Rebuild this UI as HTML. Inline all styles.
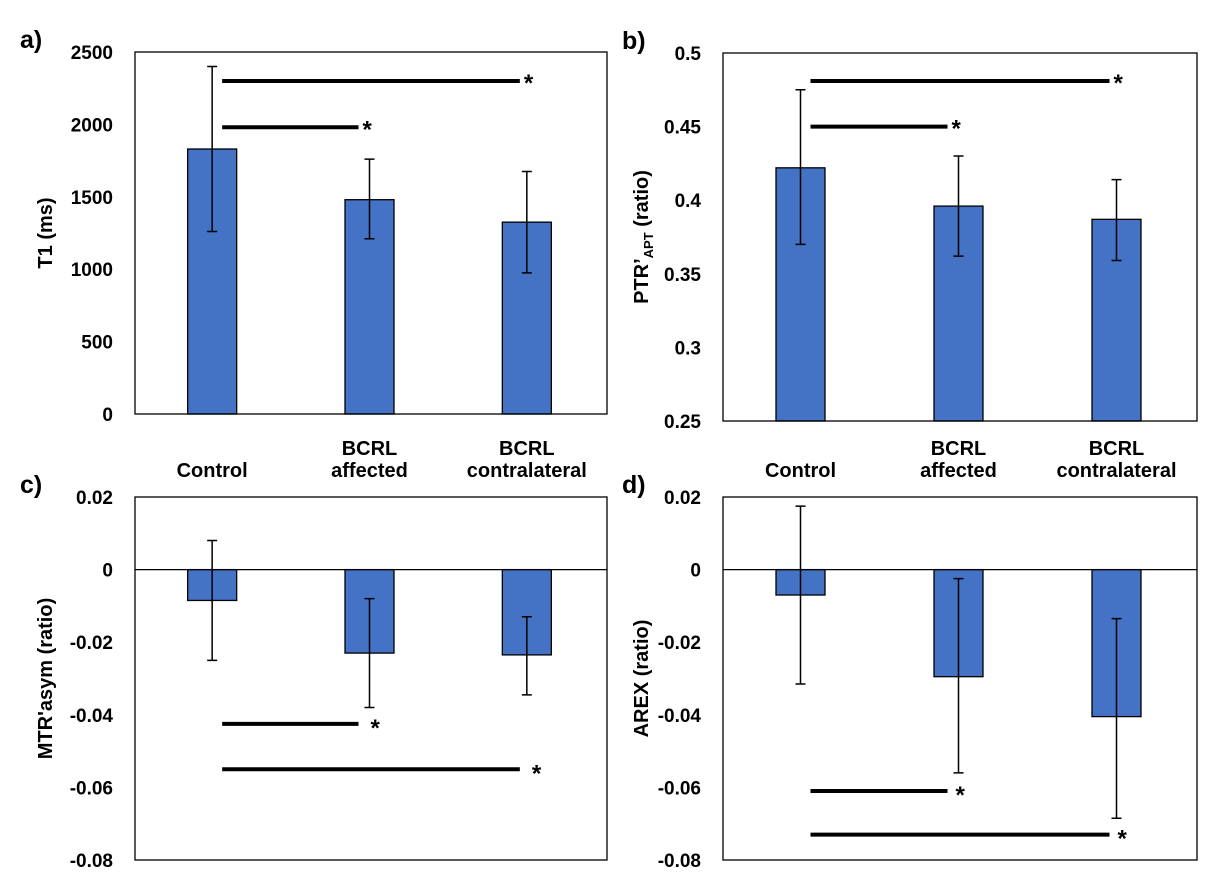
<!DOCTYPE html>
<html><head><meta charset="utf-8"><style>
body{margin:0;background:#fff}
svg{font-family:"Liberation Sans",Arial,sans-serif;font-weight:bold}
</style></head><body>
<svg id="fig" width="1218" height="881" viewBox="0 0 1218 881" xmlns="http://www.w3.org/2000/svg"></svg>
<script>
const categories = [["Control"],["BCRL","affected"],["BCRL","contralateral"]];
const t1Values = [1830, 1480, 1325];
const t1ErrHi = [2400, 1760, 1675];
const t1ErrLo = [1260, 1210, 975];
const ptrValues = [0.422, 0.396, 0.387];
const ptrErrHi = [0.475, 0.430, 0.414];
const ptrErrLo = [0.370, 0.362, 0.359];
const mtrValues = [-0.0085, -0.023, -0.0235];
const mtrErrHi = [0.008, -0.008, -0.013];
const mtrErrLo = [-0.025, -0.038, -0.0345];
const arexValues = [-0.007, -0.0295, -0.0405];
const arexErrHi = [0.0175, -0.0025, -0.0135];
const arexErrLo = [-0.0315, -0.056, -0.0685];
const t1Ticks = [0,500,1000,1500,2000,2500];
const ptrTicks = [0.25,0.3,0.35,0.4,0.45,0.5];
const mtrTicks = [-0.08,-0.06,-0.04,-0.02,0,0.02];
const arexTicks = [-0.08,-0.06,-0.04,-0.02,0,0.02];
const t1Sig = [{v:1980,from:0,to:1},{v:2300,from:0,to:2}];
const ptrSig = [{v:0.45,from:0,to:1},{v:0.481,from:0,to:2}];
const mtrSig = [{v:-0.0425,from:0,to:1},{v:-0.055,from:0,to:2}];
const arexSig = [{v:-0.061,from:0,to:1},{v:-0.073,from:0,to:2}];

const NS="http://www.w3.org/2000/svg";
const svg=document.getElementById('fig');
function mk(tag,attrs,parent,text){const e=document.createElementNS(NS,tag);for(const k in attrs)e.setAttribute(k,attrs[k]);if(text!==undefined)e.textContent=text;(parent||svg).appendChild(e);return e;}

function panel(o){
  const g=mk('g',{});
  
  
  const y=v=>o.y1+(o.max-v)/(o.max-o.min)*(o.y2-o.y1);
  const w=(o.x2-o.x1)/3;
  const cx=i=>o.x1+w*(i+0.5)-1.5;
  const fmt=v=>String(v);
  o.ticks.forEach(t=>{
    const e=mk('text',{x:o.x1-22,y:y(t)+7,'text-anchor':'end','font-size':19},g,fmt(t));
    
    
  });
  const zero=o.min<0?y(0):o.y2;
  o.vals.forEach((v,i)=>{
    const bw=49;
    const r=mk('rect',{x:cx(i)-bw/2,y:Math.min(y(v),zero),width:bw,height:Math.abs(zero-y(v)),fill:'#4472C4',stroke:'#000','stroke-width':1.3},g);
    
    
    const eb=mk('path',{d:`M${cx(i)},${y(o.hi[i])}V${y(o.lo[i])}M${cx(i)-5},${y(o.hi[i])}h10M${cx(i)-5},${y(o.lo[i])}h10`,stroke:'#000','stroke-width':1.5,fill:'none'},g);
    
    
  });
  const box=mk('rect',{x:o.x1,y:o.y1,width:o.x2-o.x1,height:o.y2-o.y1,fill:'none',stroke:'#000','stroke-width':1.3},g);
  
  
  if(o.min<0){const z=mk('line',{x1:o.x1,x2:o.x2,y1:zero,y2:zero,stroke:'#000','stroke-width':1.3},g);
    
    }
  o.sig.forEach(s=>{
    const xa=cx(s.from)+10, xb=cx(s.to)-(s.to===1?11:7);
    const l=mk('line',{x1:xa,x2:xb,y1:y(s.v),y2:y(s.v),stroke:'#000','stroke-width':4},g);
    
    
    const st=mk('text',{x:xb+o.starGap,y:y(s.v)+o.starDy,'font-size':24},g,'*');
    
    
  });
  if(o.cats){categories.forEach((c,i)=>{
    c.forEach((line,j)=>{
      const t=mk('text',{x:cx(i),y:(c.length===1?477:455+22*j),'text-anchor':'middle','font-size':20},g,line);
      
      
    });
  });}
  const yt=mk('text',{transform:`translate(${o.tx},${(o.y1+o.y2)/2}) rotate(-90)`,'text-anchor':'middle','font-size':20},g);
  
  
  if(o.sub){mk('tspan',{},yt,o.title);mk('tspan',{'font-size':13,dy:5},yt,o.sub);mk('tspan',{dy:-5},yt,o.title2);}
  else yt.textContent=o.title;
  const pl=mk('text',{x:o.lx,y:o.y1-4,'font-size':25},g,o.letter);
  
  
}
panel({name:'panel-a-t1',x1:135,x2:607,y1:52,y2:414,min:0,max:2500,ticks:t1Ticks,vals:t1Values,hi:t1ErrHi,lo:t1ErrLo,sig:t1Sig,cats:true,tx:52,title:'T1 (ms)',letter:'a)',lx:20,starGap:4,starDy:10});
panel({name:'panel-b-ptr',x1:723,x2:1197,y1:53,y2:421,min:0.25,max:0.5,ticks:ptrTicks,vals:ptrValues,hi:ptrErrHi,lo:ptrErrLo,sig:ptrSig,cats:true,tx:648,title:'PTR’',sub:'APT',title2:' (ratio)',letter:'b)',lx:622,starGap:4,starDy:10});
panel({name:'panel-c-mtr',x1:135,x2:607,y1:497,y2:860,min:-0.08,max:0.02,ticks:mtrTicks,vals:mtrValues,hi:mtrErrHi,lo:mtrErrLo,sig:mtrSig,cats:false,tx:52,title:'MTR\'asym  (ratio)',letter:'c)',lx:20,starGap:12,starDy:12});
panel({name:'panel-d-arex',x1:723,x2:1197,y1:497,y2:860,min:-0.08,max:0.02,ticks:arexTicks,vals:arexValues,hi:arexErrHi,lo:arexErrLo,sig:arexSig,cats:false,tx:648,title:'AREX (ratio)',letter:'d)',lx:622,starGap:8,starDy:12});
</script>
</body></html>
